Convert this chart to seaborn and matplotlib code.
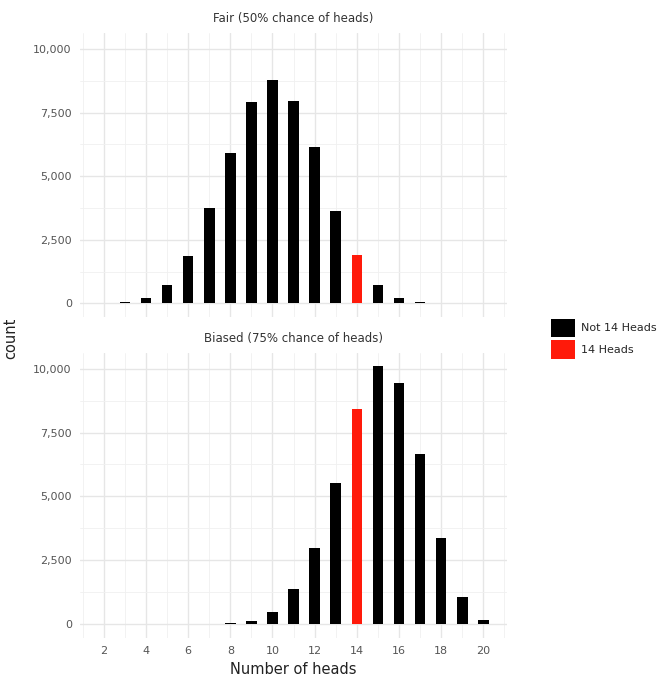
"""
Coin flips: number of heads in 20 flips, fair vs biased coin.
Faceted bar chart with seaborn.
"""
#******************************************************************************
import numpy as np
import pandas as pd
import seaborn as sns
import matplotlib
matplotlib.use("Agg")
import matplotlib.pyplot as plt
from matplotlib.patches import Patch
from matplotlib.ticker import FuncFormatter, MultipleLocator
#******************************************************************************

#****************************************
# Data (counts per number of heads)
heads = list(range(1, 21))
fair_counts = [1, 8, 50, 225, 720, 1845, 3740, 5930, 7905, 8790,
               7945, 6150, 3620, 1895, 735, 205, 55, 10, 1, 0]
biased_counts = [0, 0, 0, 0, 0, 1, 8, 35, 140, 475,
                 1390, 2980, 5540, 8425, 10105, 9440, 6655, 3375, 1050, 160]
panel_titles = ["Fair (50% chance of heads)", "Biased (75% chance of heads)"]
groups = ["Not 14 Heads", "14 Heads"]
y_ticks = [0, 2500, 5000, 7500, 10000]
x_ticks = [2, 4, 6, 8, 10, 12, 14, 16, 18, 20]

rows = []
for title, counts in zip(panel_titles, [fair_counts, biased_counts]):
    for h, c in zip(heads, counts):
        rows.append({"coin": title, "heads": h, "count": c,
                     "group": groups[1] if h == 14 else groups[0]})
df = pd.DataFrame(rows)

palette = {groups[0]: "black", groups[1]: "#ff1a0a"}

#****************************************
# Plot
sns.set_style("white")
plt.rcParams["font.family"] = ["DejaVu Sans"]

fig = plt.figure(figsize=(6.68, 6.77), dpi=100)
ax_top = fig.add_axes([0.12, 0.532, 0.639, 0.419])
ax_bot = fig.add_axes([0.12, 0.058, 0.639, 0.421])

for ax, title in zip([ax_top, ax_bot], panel_titles):
    sub = df[df["coin"] == title]
    sns.barplot(data=sub, x="heads", y="count", hue="group", palette=palette,
                hue_order=groups, native_scale=True, dodge=False, width=0.5,
                saturation=1, legend=False, linewidth=0, ax=ax)
    ax.set_xlim(0.88, 21.12)
    ax.set_ylim(-531, 10622)
    ax.set_yticks(y_ticks)
    ax.yaxis.set_minor_locator(MultipleLocator(1250))
    ax.set_xticks(x_ticks)
    ax.xaxis.set_minor_locator(MultipleLocator(1))
    ax.yaxis.set_major_formatter(FuncFormatter(lambda v, p: f"{int(v):,}"))
    ax.grid(which="major", color="#e6e6e6", linewidth=1.0)
    ax.grid(which="minor", color="#f0f0f0", linewidth=0.6)
    ax.set_axisbelow(True)
    for s in ax.spines.values():
        s.set_visible(False)
    ax.tick_params(which="both", length=0, labelsize=8, colors="#555555", pad=6)
    ax.set_title(title, fontsize=8.5, color="#333333", pad=8)
    ax.set_ylabel("")
    ax.set_xlabel("")

ax_top.tick_params(axis="x", labelbottom=False)
ax_bot.set_xlabel("Number of heads", fontsize=10.5, color="#222222", labelpad=4)
fig.text(0.016, 0.5, "count", rotation=90, va="center", ha="center",
         fontsize=10.5, color="#222222")

handles = [Patch(facecolor=palette[g], edgecolor="none", label=g) for g in groups]
fig.legend(handles=handles, loc="center left", bbox_to_anchor=(0.818, 0.5),
           frameon=False, fontsize=8, handlelength=2.2, handleheight=2.2,
           handletextpad=0.5, labelspacing=0.25, borderaxespad=0)

fig.savefig("out.png", dpi=100)
